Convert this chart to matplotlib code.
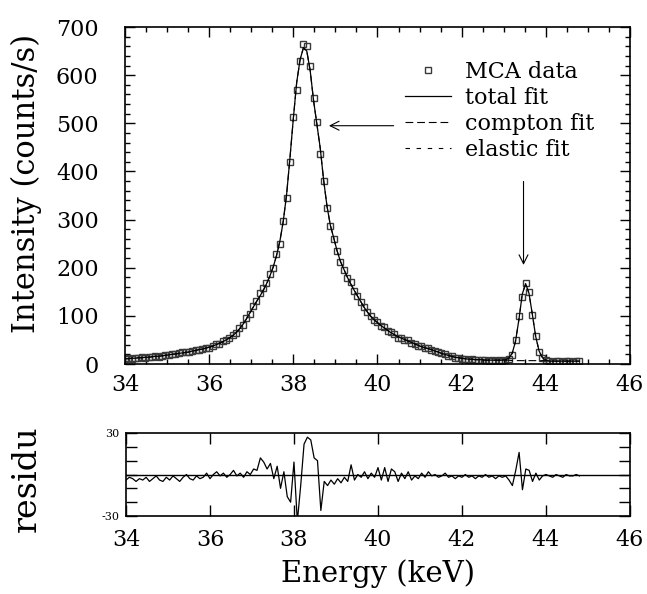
import matplotlib
matplotlib.use("Agg")
import matplotlib.pyplot as plt
from matplotlib.ticker import MultipleLocator
import numpy as np

plt.rcParams['font.family'] = ['DejaVu Serif']

# MCA channels (keV)
energy = np.round(34.0 + 0.08 * np.arange(136), 2)

mca_data = [10, 12, 11, 12, 12, 14, 13, 14, 15, 17, 15, 17, 19, 18, 21, 20,
            22, 24, 25, 24, 27, 29, 29, 32, 34, 34, 38, 41, 42, 47, 50, 55,
            60, 64, 74, 81, 95, 104, 120, 131, 147, 157, 168, 186, 200, 229,
            250, 297, 345, 420, 514, 570, 629, 665, 660, 619, 553, 502, 437,
            380, 325, 286, 259, 234, 211, 196, 179, 170, 152, 142, 129, 119,
            107, 99, 91, 88, 78, 77, 68, 67, 62, 55, 54, 50, 49, 44, 42, 38,
            37, 33, 33, 30, 27, 24, 22, 21, 17, 16, 13, 13, 11, 11, 9, 10, 8,
            9, 8, 8, 7, 8, 7, 8, 7, 9, 11, 19, 49, 100, 140, 169, 150, 101,
            58, 25, 12, 8, 6, 5, 6, 6, 5, 6, 6, 5, 6, 6]

compton_fit = [11, 11, 12, 12, 13, 13, 14, 14, 15, 16, 16, 17, 18, 19, 20,
               21, 22, 23, 24, 25, 27, 28, 30, 31, 33, 35, 37, 40, 43, 46,
               50, 54, 59, 65, 73, 82, 93, 105, 117, 129, 140, 152, 166, 182,
               201, 225, 255, 296, 352, 428, 510, 585, 632, 657, 650, 610,
               548, 498, 448, 382, 328, 288, 262, 235, 213, 197, 181, 167,
               154, 142, 130, 118, 108, 99, 92, 86, 80, 75, 70, 65, 61, 57,
               54, 51, 48, 45, 42, 39, 36, 34, 32, 30, 27, 25, 22, 20, 18, 16,
               14, 13, 12, 11, 10, 10, 9, 9, 9, 8, 8, 8, 8, 8, 8, 8, 8, 7, 7,
               7, 7, 7, 7, 7, 7, 7, 7, 7, 6, 6, 6, 6, 6, 6, 6, 6, 6, 6]

elastic_energy = [42.96, 43.04, 43.12, 43.20, 43.28, 43.36, 43.44, 43.52,
                  43.60, 43.68, 43.76, 43.84, 43.92, 44.00, 44.08]
elastic_fit = [0, 1, 4, 15, 40, 85, 138, 160, 140, 96, 50, 20, 6, 1, 0]

residu = [-4, -2, -3, -5, -3, -4, -2, -5, -3, -1, -4, -5, -2, -4, -1, -3,
          -5, -2, 0, -3, -4, -1, -3, -2, 1, -3, 0, 2, -1, 1, -2, 0, 3, -1, 1,
          -2, 2, 0, 4, 3, 12, 9, 4, 8, -3, 6, -10, 2, -16, -20, 9, -34, -8,
          22, 27, 25, 12, 10, -26, -5, -8, -4, -7, -3, -6, -2, -5, 7, -4, 0,
          -2, 2, -3, 1, -2, 5, -4, 5, -5, 4, 2, -5, 1, -3, 2, -4, -1, -3, 1,
          -2, 2, -1, 0, -2, -1, 1, -2, -1, -3, -1, -2, 0, -2, -1, -3, -1, -2,
          0, -2, -1, -3, -1, -2, -1, -4, -8, 3, 16, -11, 4, 3, -5, 1, -4, -1,
          0, -1, -2, 0, -1, -2, 0, -1, -1, 0, -1]

compton_fit = np.array(compton_fit, dtype=float)
total_fit = compton_fit.copy()
i0 = int(np.argmin(np.abs(energy - elastic_energy[0])))
total_fit[i0:i0 + len(elastic_fit)] += elastic_fit
elastic_line = np.array(elastic_fit) + compton_fit[i0:i0 + len(elastic_fit)]

fig = plt.figure(figsize=(6.47, 5.94), dpi=100)
ax1 = fig.add_axes([0.1932, 0.3872, 0.7805, 0.5673])
ax2 = fig.add_axes([0.1947, 0.1313, 0.7790, 0.1397])

# top panel
ax1.plot(energy, mca_data, 's', ms=5, mfc='none', mec='#3a3a3a', mew=1.0,
         label='MCA data')
ax1.plot(energy, total_fit, '-', color='black', lw=0.9, label='total fit')
ax1.plot(energy, compton_fit, color='black', lw=0.8, dashes=(7, 3.5),
         label='compton fit')
ax1.plot(elastic_energy, elastic_line, color='black', lw=0.8, dashes=(4, 6),
         label='elastic fit')

ax1.set_xlim(34, 46)
ax1.set_ylim(0, 700)
ax1.xaxis.set_major_locator(MultipleLocator(2))
ax1.xaxis.set_minor_locator(MultipleLocator(0.5))
ax1.yaxis.set_major_locator(MultipleLocator(100))
ax1.yaxis.set_minor_locator(MultipleLocator(20))
ax1.tick_params(which='both', direction='in', top=True, right=True, width=1)
ax1.tick_params(which='major', length=7)
ax1.tick_params(which='minor', length=3.5)
ax1.tick_params(axis='x', labelsize=16, pad=7)
ax1.tick_params(axis='y', labelsize=16, pad=19)
ax1.set_ylabel('Intensity (counts/s)', fontsize=22)
ax1.yaxis.set_label_coords(-0.165, 0.535)

ax1.legend(loc='upper left', bbox_to_anchor=(0.554, 0.9), frameon=False,
           fontsize=16, borderpad=0, borderaxespad=0, handlelength=2.1,
           handletextpad=0.6, labelspacing=0.18)

ax1.annotate('', xy=(38.78, 495), xytext=(40.45, 495),
             arrowprops=dict(arrowstyle='->', lw=0.8, color='black',
                             mutation_scale=16))
ax1.annotate('', xy=(43.47, 200), xytext=(43.47, 385),
             arrowprops=dict(arrowstyle='->', lw=0.8, color='black',
                             mutation_scale=16))

# residual panel
ax2.plot(energy, residu, color='black', lw=0.9)
ax2.axhline(0, color='black', lw=1.0)
ax2.set_xlim(34, 46)
ax2.set_ylim(-30, 30)
ax2.xaxis.set_major_locator(MultipleLocator(2))
ax2.set_yticks([-30, -20, -10, 0, 10, 20, 30])
ax2.set_yticklabels(['-30', '', '', '', '', '', '30'])
ax2.tick_params(direction='in', top=True, right=True, width=1, length=8)
ax2.tick_params(axis='x', labelsize=16, pad=9)
ax2.tick_params(axis='y', labelsize=8, pad=5)
ax2.set_ylabel('residu', fontsize=24)
ax2.yaxis.set_label_coords(-0.165, 0.45)
ax2.set_xlabel('Energy (keV)', fontsize=21, labelpad=6)

for ax in (ax1, ax2):
    for s in ax.spines.values():
        s.set_linewidth(1.2)

fig.savefig('out.png', dpi=100)
